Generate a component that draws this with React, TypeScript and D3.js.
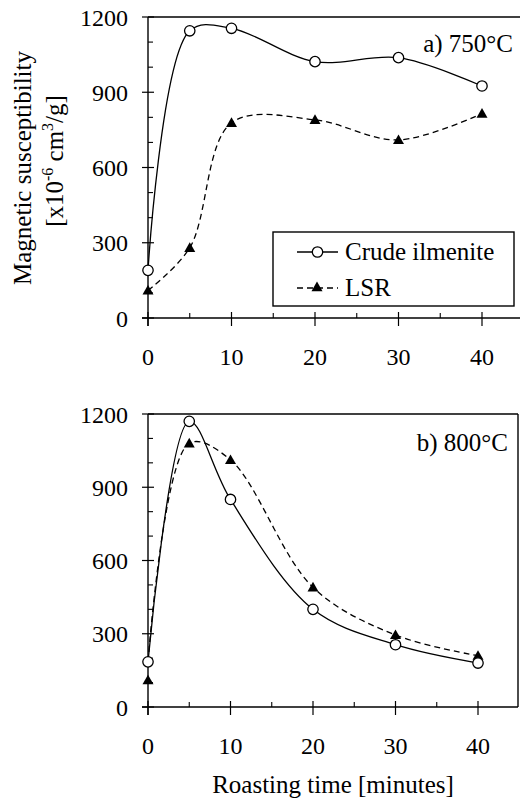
import React from "react";
import * as d3 from "d3";

// Roasting time (minutes)
const times = [0, 5, 10, 20, 30, 40];

// Magnetic susceptibility, x10^-6 cm^3/g
const crude750 = [190, 1145, 1155, 1022, 1038, 925];
const lsr750 = [110, 280, 778, 790, 710, 815];
const crude800 = [185, 1170, 850, 400, 255, 180];
const lsr800 = [110, 1080, 1012, 490, 295, 210];

const xTicks = [0, 10, 20, 30, 40];
const xMinor = [5, 15, 25, 35];
const yTicks = [0, 300, 600, 900, 1200];
const yMinor = [100, 200, 400, 500, 700, 800, 1000, 1100];

const seriesNames = ["Crude ilmenite", "LSR"];
const panelTitles = ["a) 750°C", "b) 800°C"];

const FONT = "Liberation Serif, Tinos, DejaVu Serif, Noto Serif, Times New Roman, serif";

type Pt = { t: number; v: number };
const toPts = (vals: number[]): Pt[] => vals.map((v, i) => ({ t: times[i], v }));

type PanelProps = {
  x0: number; x40: number; right: number; yBottom: number; yTop: number;
  crude: Pt[]; lsr: Pt[]; lsrLine: Pt[]; title: string; titleX: number; titleY: number;
  frame: boolean;
};

function Triangle({ cx, cy }: { cx: number; cy: number }) {
  const s = 5.5;
  return (
    <path
      d={`M${cx},${cy - s} L${cx + s},${cy + s * 0.75} L${cx - s},${cy + s * 0.75} Z`}
      fill="#000"
    />
  );
}

function Panel(p: PanelProps) {
  const x = d3.scaleLinear().domain([0, 40]).range([p.x0, p.x40]);
  const y = d3.scaleLinear().domain([0, 1200]).range([p.yBottom, p.yTop]);
  const line = d3
    .line<Pt>()
    .x((d) => x(d.t))
    .y((d) => y(d.v))
    .curve(d3.curveCatmullRom.alpha(0.5));

  const ax = x(0);
  return (
    <g>
      {/* frame */}
      <line x1={ax} x2={p.right} y1={y(1200)} y2={y(1200)} stroke="#000" strokeWidth={1.4} />
      <line x1={ax - 6} x2={p.right} y1={y(0)} y2={y(0)} stroke="#000" strokeWidth={1.4} />
      <line x1={ax} x2={ax} y1={y(1200)} y2={y(0) + 8} stroke="#000" strokeWidth={1.4} />
      {p.frame && (
        <line x1={p.right} x2={p.right} y1={y(1200)} y2={y(0)} stroke="#000" strokeWidth={1.4} />
      )}

      {/* y ticks */}
      {yTicks.map((t) => (
        <g key={"y" + t}>
          <line x1={ax - 6} x2={ax + 6} y1={y(t)} y2={y(t)} stroke="#000" strokeWidth={1.2} />
          <text x={ax - 20} y={y(t) + 8.5} textAnchor="end" fontSize={24} style={{ fontFamily: FONT }}>
            {t}
          </text>
        </g>
      ))}
      {yMinor.map((t) => (
        <line key={"ym" + t} x1={ax} x2={ax + 5} y1={y(t)} y2={y(t)} stroke="#000" strokeWidth={1.1} />
      ))}

      {/* x ticks */}
      {xTicks.map((t) => (
        <g key={"x" + t}>
          <line x1={x(t)} x2={x(t)} y1={y(0) - 6} y2={y(0) + 8} stroke="#000" strokeWidth={1.2} />
          <text x={x(t)} y={y(0) + 47} textAnchor="middle" fontSize={24} style={{ fontFamily: FONT }}>
            {t}
          </text>
        </g>
      ))}
      {xMinor.map((t) => (
        <line key={"xm" + t} x1={x(t)} x2={x(t)} y1={y(0) - 5} y2={y(0)} stroke="#000" strokeWidth={1.1} />
      ))}

      {/* curves */}
      <path d={line(p.lsrLine) || ""} fill="none" stroke="#000" strokeWidth={1.3} strokeDasharray="6,4" />
      <path d={line(p.crude) || ""} fill="none" stroke="#000" strokeWidth={1.3} />

      {/* markers */}
      {p.lsr.map((d, i) => (
        <Triangle key={"t" + i} cx={x(d.t)} cy={y(d.v)} />
      ))}
      {p.crude.map((d, i) => (
        <circle key={"c" + i} cx={x(d.t)} cy={y(d.v)} r={5.2} fill="#fff" stroke="#000" strokeWidth={1.3} />
      ))}

      <text x={p.titleX} y={p.titleY} textAnchor="end" fontSize={25} style={{ fontFamily: FONT }}>
        {p.title}
      </text>
    </g>
  );
}

export default function App() {
  const c750 = toPts(crude750);
  const l750 = toPts(lsr750);
  const c800 = toPts(crude800);
  const l800 = toPts(lsr800);
  // The fitted LSR curve at 800°C starts from the common untreated value
  const l800Line = [c800[0], ...l800.slice(1)];

  return (
    <svg
      width={520}
      height={802}
      style={{ position: "absolute", left: 0, top: 0, background: "#fff" }}
    >
      <rect width={520} height={802} fill="#fff" />
      <Panel
        x0={148} x40={482} right={520} yBottom={318} yTop={17}
        crude={c750} lsr={l750} lsrLine={l750}
        title={panelTitles[0]} titleX={513} titleY={52} frame={false}
      />
      <Panel
        x0={148} x40={478} right={518} yBottom={707} yTop={414}
        crude={c800} lsr={l800} lsrLine={l800Line}
        title={panelTitles[1]} titleX={508} titleY={451} frame={true}
      />

      {/* legend */}
      <g>
        <rect x={273} y={232} width={241} height={74} fill="#fff" stroke="#000" strokeWidth={1.4} />
        <line x1={297} x2={338} y1={252} y2={252} stroke="#000" strokeWidth={1.3} />
        <circle cx={317.5} cy={252} r={5.2} fill="#fff" stroke="#000" strokeWidth={1.3} />
        <text x={345} y={260} fontSize={25} style={{ fontFamily: FONT }}>{seriesNames[0]}</text>
        <line x1={297} x2={338} y1={288} y2={288} stroke="#000" strokeWidth={1.3} strokeDasharray="6,4" />
        <Triangle cx={317} cy={287} />
        <text x={345} y={296} fontSize={25} style={{ fontFamily: FONT }}>{seriesNames[1]}</text>
      </g>

      {/* y-axis title */}
      <text
        transform="translate(31,168) rotate(-90)"
        textAnchor="middle"
        fontSize={25}
        style={{ fontFamily: FONT }}
      >
        Magnetic susceptibility
      </text>
      <text
        transform="translate(63,161) rotate(-90)"
        textAnchor="middle"
        fontSize={25}
        style={{ fontFamily: FONT }}
      >
        [x10
        <tspan fontSize={16} dy={-10}>-6</tspan>
        <tspan dy={10}> cm</tspan>
        <tspan fontSize={16} dy={-10}>3</tspan>
        <tspan dy={10}>/g]</tspan>
      </text>

      {/* x-axis title */}
      <text x={333} y={793} textAnchor="middle" fontSize={25} style={{ fontFamily: FONT }}>
        Roasting time [minutes]
      </text>
    </svg>
  );
}
